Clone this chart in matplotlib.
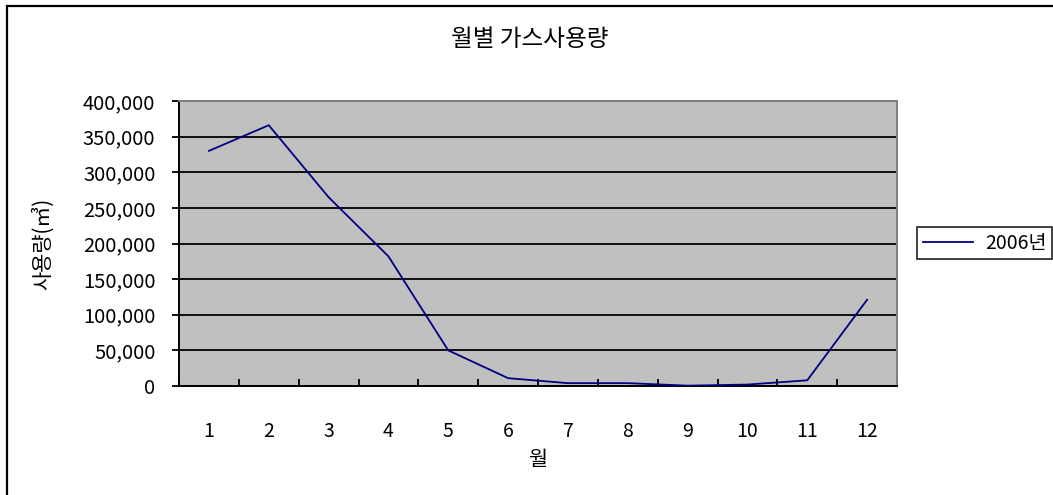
#!/usr/bin/env python3
"""Monthly gas consumption line chart (2006)."""

import matplotlib

matplotlib.use("Agg")
import matplotlib.pyplot as plt
import numpy as np
from matplotlib.patches import Rectangle
from matplotlib.ticker import FuncFormatter

plt.rcParams["font.family"] = ["Noto Sans CJK KR", "DejaVu Sans"]

months = ["1", "2", "3", "4", "5", "6", "7", "8", "9", "10", "11", "12"]
usage_2006 = [330000, 366000, 265000, 182000, 50000, 11000, 4000, 4000, 500, 2000, 8000, 121000]
series_label = "2006년"
title = "월별 가스사용량"
x_label = "월"
y_label = "사용량(㎥)"
y_ticks = [0, 50000, 100000, 150000, 200000, 250000, 300000, 350000, 400000]

W, H = 1053, 495
fig = plt.figure(figsize=(W / 100, H / 100), dpi=100)
ax = fig.add_axes([179 / W, 1 - 386 / H, (897 - 179) / W, (386 - 101) / H])
ax.set_facecolor("#C0C0C0")

x = np.arange(len(months))
ax.plot(x, usage_2006, color="#000080", lw=1.3, label=series_label, zorder=3)

ax.set_xlim(-0.5, len(months) - 0.5)
ax.set_ylim(0, 400000)
ax.set_yticks(y_ticks)
ax.yaxis.set_major_formatter(FuncFormatter(lambda v, _: f"{v:,.0f}"))
ax.grid(axis="y", color="black", lw=1.3, zorder=1)
ax.set_axisbelow(True)

ax.set_xticks(x, months)
ax.set_xticks(np.arange(-0.5, len(months), 1), minor=True)
ax.tick_params(axis="x", which="major", length=0, pad=25, labelsize=14)
ax.tick_params(axis="x", which="minor", direction="in", length=5, width=1.3, color="black")
ax.tick_params(axis="y", direction="out", length=5, width=1.3, pad=12, labelsize=14.5)

for side in ("left", "bottom"):
    ax.spines[side].set_color("black")
    ax.spines[side].set_linewidth(1.4)
for side in ("top", "right"):
    ax.spines[side].set_color("#808080")
    ax.spines[side].set_linewidth(1.4)

fig.text(530 / W, 1 - 40 / H, title, ha="center", va="center", fontsize=17)
fig.text(538 / W, 1 - 460 / H, x_label, ha="center", va="center", fontsize=15)
fig.text(43 / W, 1 - 244 / H, y_label, ha="center", va="center", fontsize=15, rotation=90)

leg = ax.legend(
    loc="center left",
    bbox_to_anchor=(917 / W, 1 - 243 / H),
    bbox_transform=fig.transFigure,
    frameon=True,
    fancybox=False,
    edgecolor="black",
    fontsize=14,
    handlelength=2.6,
    handletextpad=0.6,
    borderpad=0.3,
    borderaxespad=0,
)
leg.get_frame().set_linewidth(1.3)

# outer chart border (runs off the right and bottom edges)
fig.patches.append(
    Rectangle((7 / W, -0.1), 1.2, 1 - 6 / H + 0.1, fill=False, lw=1.6,
              edgecolor="black", transform=fig.transFigure)
)

fig.savefig("out.png", dpi=100)
